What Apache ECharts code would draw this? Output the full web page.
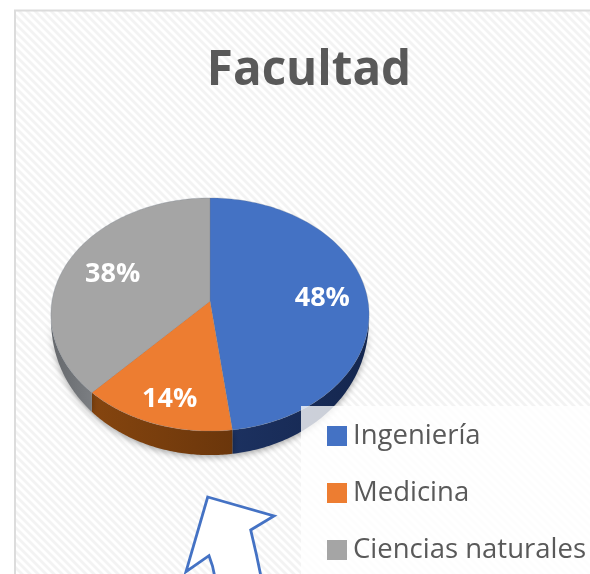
<!DOCTYPE html>
<html><head><meta charset="utf-8">
<style>html,body{margin:0;padding:0;background:#fff}#c{width:590px;height:574px}</style>
<script src="https://cdn.jsdelivr.net/npm/echarts@6/dist/echarts.min.js"></script>
</head><body><div id="c"></div>
<script>
const titleText = 'Facultad';
const categories = ['Ingeniería', 'Medicina', 'Ciencias naturales'];
const values = [48, 14, 38];
const colors = ['#4472c4', '#ed7d31', '#a5a5a5'];
const sideColors = [['#1c3160', '#14264e'], ['#85450f', '#6b360b'], ['#65686c', '#7b7e82']];
const labelRadii = [0.7, 0.8, 0.7];

const total = values.reduce((a, b) => a + b, 0);
const cx = 210, cy = 301, bx = 158, by = 115, k = 0.116, depth = 24;
function project(theta, r) {
  const u = r * Math.sin(theta), v = r * Math.cos(theta), d = 1 + k * v;
  return [cx + bx * u / d, cy - by * v / d];
}
function sideDepth(theta) {
  const t = Math.max(0, (-Math.cos(theta) - k) / (1 - k));
  return depth * Math.pow(t, 0.6);
}
function angleRange(i) {
  const s = values.slice(0, i).reduce((a, b) => a + b, 0);
  return [s / total * 2 * Math.PI, (s + values[i]) / total * 2 * Math.PI];
}
const visA = Math.acos(-k), visB = 2 * Math.PI - visA;

function renderSlice(i) {
  const [a0, a1] = angleRange(i);
  const top = [[cx, cy]];
  for (let n = 0; n <= 120; n++) top.push(project(a0 + (a1 - a0) * n / 120, 1));
  const children = [];
  const s0 = Math.max(a0, visA), s1 = Math.min(a1, visB);
  if (s1 > s0) {
    const up = [], low = [];
    for (let n = 0; n <= 80; n++) {
      const t = s0 + (s1 - s0) * n / 80, p = project(t, 1);
      up.push(p);
      low.unshift([p[0], p[1] + sideDepth(t)]);
    }
    children.push({
      type: 'polygon', z2: 1,
      shape: { points: up.concat(low) },
      style: {
        fill: new echarts.graphic.LinearGradient(0, 0, 1, 0, [
          { offset: 0, color: sideColors[i][0] }, { offset: 1, color: sideColors[i][1] }]),
        shadowBlur: 6, shadowColor: 'rgba(0,0,0,0.35)', shadowOffsetY: 2
      }
    });
  }
  children.push({
    type: 'polygon', z2: 2,
    shape: { points: top },
    style: { fill: colors[i], stroke: 'rgba(110,120,135,0.35)', lineWidth: 0.8 }
  });
  const lp = project((a0 + a1) / 2, labelRadii[i]);
  children.push({
    type: 'text', z2: 3,
    style: {
      x: lp[0] + 2.5, y: lp[1] + 2, text: Math.round(values[i] / total * 100) + '%',
      fill: '#fff', font: 'bold 27px "Open Sans"', textAlign: 'center', textVerticalAlign: 'middle'
    }
  });
  return { type: 'group', children };
}

const hatch = document.createElement('canvas');
hatch.width = hatch.height = 8;
const g = hatch.getContext('2d');
g.fillStyle = '#ffffff'; g.fillRect(0, 0, 8, 8);
g.strokeStyle = '#f3f3f3'; g.lineWidth = 2.8;
[[-4, -4, 12, 12], [-4, 4, 4, 12], [4, -4, 12, 4]].forEach(l => {
  g.beginPath(); g.moveTo(l[0], l[1]); g.lineTo(l[2], l[3]); g.stroke();
});

const chart = echarts.init(document.getElementById('c'), null, { renderer: 'canvas' });
chart.setOption({
  animation: false,
  backgroundColor: '#fff',
  title: {
    text: titleText, left: 304, top: 42, textAlign: 'center',
    textStyle: { color: '#595959', fontFamily: 'Open Sans', fontWeight: 'bold', fontSize: 47.5 }
  },
  legend: {
    orient: 'vertical', left: 327, top: 420, z: 10, padding: 0,
    data: categories, icon: 'rect', itemWidth: 20, itemHeight: 20, itemGap: 25,
    selectedMode: false,
    textStyle: { color: '#595959', fontFamily: 'Open Sans', fontSize: 27.5, padding: [2, 0, 0, 1], lineHeight: 30 }
  },
  graphic: { elements: [
    { type: 'rect', z: 0, shape: { x: 15, y: 10.5, width: 640, height: 640 },
      style: { fill: { image: hatch, repeat: 'repeat' }, stroke: '#dcdcdc', lineWidth: 2 }, silent: true },
    { type: 'rect', z: 5, shape: { x: 301, y: 406, width: 289, height: 168 },
      style: { fill: 'rgba(255,255,255,0.78)' }, silent: true },
    { type: 'polygon', z: 5, silent: true,
      shape: { points: [[207.7, 497], [274, 516], [250.7, 530], [253.5, 542], [256.5, 555], [261.7, 580], [215.5, 580], [212.5, 566], [209, 555.7], [186, 571.7]] },
      style: { fill: '#fff', stroke: '#4472c4', lineWidth: 2.8, lineJoin: 'miter' } }
  ] },
  series: categories.map((name, i) => ({
    type: 'custom', name, coordinateSystem: 'none', z: 2,
    itemStyle: { color: colors[i] },
    data: [values[i]],
    renderItem: () => renderSlice(i)
  }))
});
</script></body></html>
